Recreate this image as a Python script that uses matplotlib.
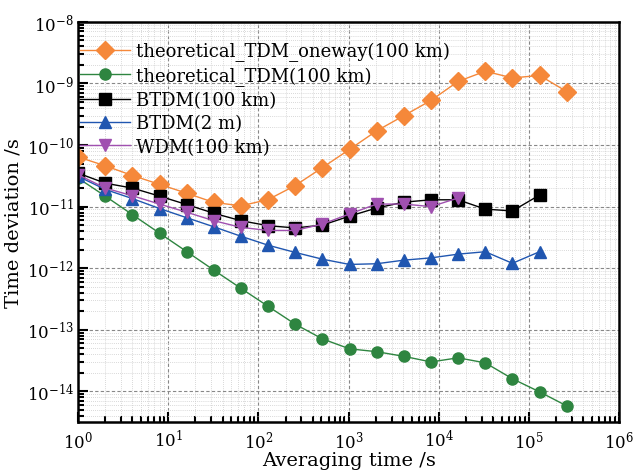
import matplotlib
matplotlib.use("Agg")
import matplotlib.pyplot as plt
from matplotlib.ticker import LogLocator, NullFormatter

plt.rcParams['font.family'] = ['DejaVu Serif']
plt.rcParams['mathtext.fontset'] = 'dejavuserif'

# averaging time, s (powers of two)
tau = [2 ** k for k in range(19)]

oneway = [6.4e-11, 4.6e-11, 3.2e-11, 2.3e-11, 1.65e-11, 1.17e-11, 1.03e-11, 1.3e-11,
          2.2e-11, 4.3e-11, 8.5e-11, 1.7e-10, 3.0e-10, 5.3e-10, 1.08e-9, 1.58e-9,
          1.23e-9, 1.35e-9, 7.4e-10]
tdm = [2.9e-11, 1.48e-11, 7.4e-12, 3.7e-12, 1.86e-12, 9.3e-13, 4.7e-13, 2.4e-13,
       1.23e-13, 7.1e-14, 4.9e-14, 4.4e-14, 3.7e-14, 3.0e-14, 3.5e-14, 2.9e-14,
       1.6e-14, 9.8e-15, 5.8e-15]
btdm_100 = [3.5e-11, 2.4e-11, 2.0e-11, 1.48e-11, 1.08e-11, 7.8e-12, 5.9e-12, 4.9e-12,
            4.5e-12, 5.0e-12, 7.0e-12, 9.5e-12, 1.18e-11, 1.29e-11, 1.29e-11, 9.1e-12,
            8.5e-12, 1.54e-11]
btdm_2m = [3.1e-11, 1.9e-11, 1.35e-11, 9.3e-12, 6.6e-12, 4.7e-12, 3.3e-12, 2.36e-12,
           1.8e-12, 1.4e-12, 1.15e-12, 1.18e-12, 1.35e-12, 1.47e-12, 1.69e-12, 1.85e-12,
           1.2e-12, 1.85e-12]
wdm = [3.3e-11, 2.0e-11, 1.5e-11, 1.1e-11, 8.1e-12, 5.9e-12, 4.6e-12, 4.1e-12,
       4.1e-12, 5.2e-12, 7.6e-12, 1.1e-11, 1.1e-11, 1.0e-11, 1.38e-11]

labels = ["theoretical_TDM_oneway(100 km)", "theoretical_TDM(100 km)",
          "BTDM(100 km)", "BTDM(2 m)", "WDM(100 km)"]

fig = plt.figure(figsize=(6.35, 4.77), dpi=100)
ax = fig.add_axes([0.123, 0.113, 0.852, 0.839])

ax.plot(tau, oneway, '-D', color='#F5883A', ms=9, lw=1, label=labels[0])
ax.plot(tau, tdm, '-o', color='#2E8540', ms=8, lw=1, label=labels[1])
ax.plot(tau[:len(btdm_100)], btdm_100, '-s', color='black', ms=8, lw=1, label=labels[2])
ax.plot(tau[:len(btdm_2m)], btdm_2m, '-^', color='#2056B0', ms=9, lw=1, label=labels[3])
ax.plot(tau[:len(wdm)], wdm, '-v', color='#A050B0', ms=9, lw=1, label=labels[4])

ax.set_xscale('log')
ax.set_yscale('log')
ax.set_xlim(1, 1e6)
ax.set_ylim(10 ** -14.5, 1e-8)

ax.xaxis.set_major_locator(LogLocator(base=10, numticks=10))
ax.xaxis.set_minor_locator(LogLocator(base=10, subs=range(2, 10), numticks=20))
ax.yaxis.set_major_locator(LogLocator(base=10, numticks=10))
ax.yaxis.set_minor_locator(LogLocator(base=10, subs=range(2, 10), numticks=20))
ax.xaxis.set_minor_formatter(NullFormatter())
ax.yaxis.set_minor_formatter(NullFormatter())

ax.grid(True, which='major', ls=(0, (3, 2)), color='#888888', lw=0.8)
ax.grid(True, which='minor', ls=(0, (1, 1.5)), color='#cccccc', lw=0.6)
ax.tick_params(which='both', direction='in', top=False, right=False, labelsize=12, width=1.5)
ax.tick_params(axis='y', which='major', length=7, pad=3)
ax.tick_params(axis='x', which='major', length=7, pad=5)
ax.tick_params(which='minor', length=4)
for s in ax.spines.values():
    s.set_linewidth(1.8)

ax.set_xlabel("Averaging time /s", fontsize=14, labelpad=0)
ax.set_ylabel("Time deviation /s", fontsize=14, labelpad=3)

ax.legend(loc='upper left', bbox_to_anchor=(0.0, 0.955), frameon=False, fontsize=13,
          handlelength=2.8, handletextpad=0.3, labelspacing=0.3, borderaxespad=0.0,
          borderpad=0.1)

fig.savefig("out.png", dpi=100)
